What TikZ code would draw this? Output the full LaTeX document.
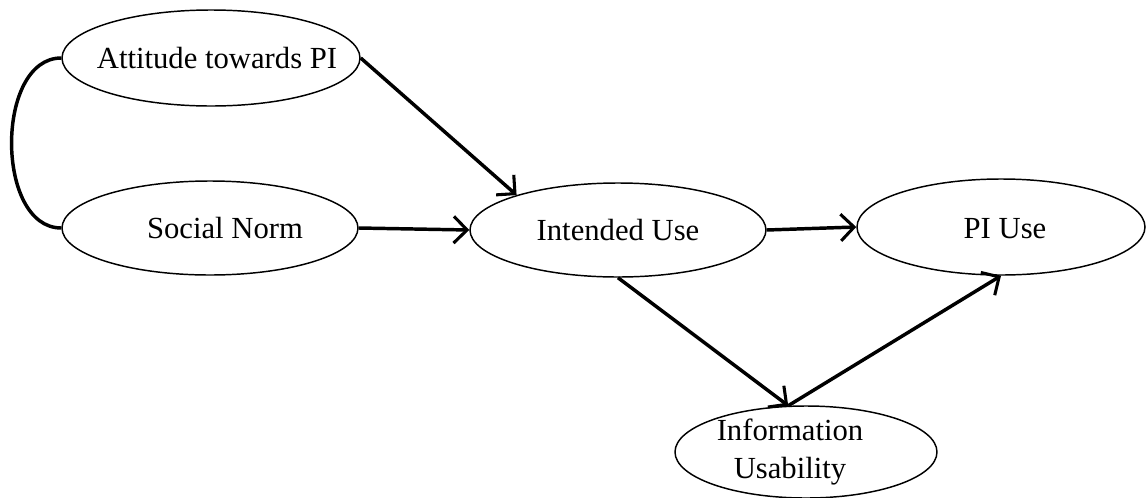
\documentclass[tikz,border=0pt]{standalone}
\usepackage{fontspec}
\setmainfont{Liberation Serif}
\usetikzlibrary{arrows.meta,shapes.geometric}

\begin{document}
\begin{tikzpicture}[
  x=0.75pt, y=-0.75pt,
  ell/.style={draw, ellipse, line width=1.1pt, inner sep=0pt},
  lbl/.style={font=\fontsize{23}{28}\selectfont, align=center, inner sep=0pt},
  link/.style={line width=2.6pt, -{Straight Barb[length=10pt,width=20pt,line width=2.3pt]}},
  tie/.style={line width=2.6pt}
]
\useasboundingbox (0,0) rectangle (1147,497);

% construct ellipses
\node[ell, minimum width=223.5pt, minimum height=72pt]  (att)  at (211,58)  {};
\node[ell, minimum width=222pt,   minimum height=70.5pt] (sn)   at (210,228) {};
\node[ell, minimum width=222pt,   minimum height=70.5pt] (int)  at (618,230) {};
\node[ell, minimum width=216pt,   minimum height=72pt]  (pi)   at (1001,227) {};
\node[ell, minimum width=196.5pt, minimum height=69pt]  (info) at (806,452) {};

% construct names
\node[lbl] (attT)  at (217,58)  {Attitude towards PI};
\node[lbl] (snT)   at (225,228) {Social Norm};
\node[lbl] (intT)  at (618,230) {Intended Use};
\node[lbl] (piT)   at (1005,229) {PI Use};
\node[lbl] (infoT) at (790,452) {Information\\Usability};

% correlation between the two predictors
\draw[tie] (att.west) .. controls (-5,58) and (-5,228) .. (sn.west);

% paths
\draw[link] (att.east) -- (int.161);
\draw[link] (sn.east) -- (int.west);
\draw[link] (int.east) -- (pi.west);
\draw[link] (int.south) -- (info.111);
\draw[link] (info.111) -- (pi.south);
\end{tikzpicture}
\end{document}
